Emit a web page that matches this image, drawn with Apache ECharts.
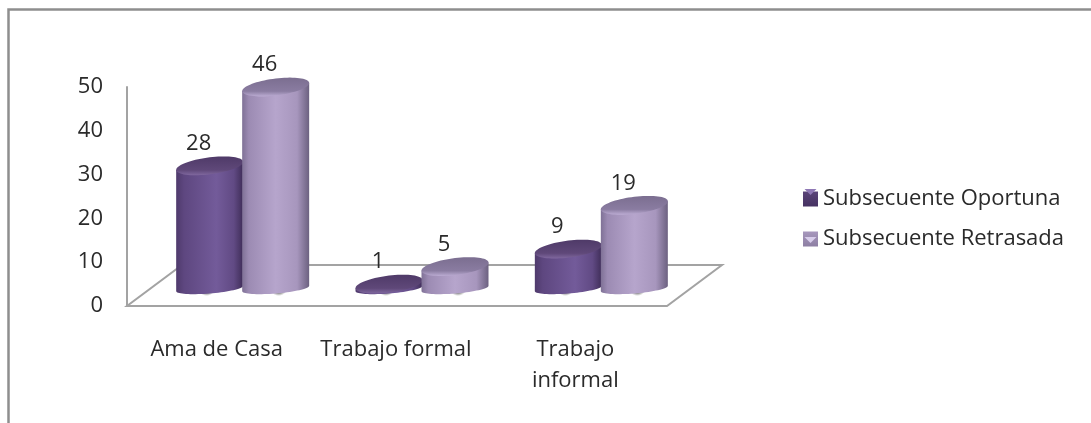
<!DOCTYPE html>
<html>
<head>
<meta charset="utf-8">
<style>html,body{margin:0;padding:0;background:#fff}#chart{width:1091px;height:423px}</style>
<script src="https://cdn.jsdelivr.net/npm/echarts@6/dist/echarts.min.js"></script>
</head>
<body>
<div id="chart"></div>
<script>
// Chart data
const categories = ['Ama de Casa', 'Trabajo formal', 'Trabajo\ninformal'];
const oportuna = [28, 1, 9];
const retrasada = [46, 5, 19];
const seriesNames = ['Subsecuente Oportuna', 'Subsecuente Retrasada'];
const yTicks = { min: 0, max: 50, interval: 10 };

const FONT = '"Open Sans", sans-serif';
const FONT_SIZE = 22;
const TEXT = '#2a2a2a';
const AXIS = '#a3a3a3';

// Oblique floor: the bars stand halfway into its depth
const FLOOR_DX = 55, FLOOR_DY = -41;
const BAR_DX = 26, BAR_DY = -17.5;
const RX = 33.5, TOP_RY = 8.5, BASE_RY = 5;

const palettes = {
  dark: {
    body: [[0, '#4f3a6c'], [0.12, '#5e4780'], [0.6, '#735b9a'], [0.86, '#614a84'], [1, '#3f2d58']],
    top: [[0, '#4f3a68'], [0.72, '#5f4879'], [1, '#80689f']]
  },
  light: {
    body: [[0, '#7f7196'], [0.1, '#9c8bb3'], [0.5, '#b6a5cc'], [0.82, '#a796bd'], [1, '#6c6180']],
    top: [[0, '#7b6e90'], [0.72, '#8a7ca1'], [1, '#bcacd3']]
  }
};

function gradient(stops, horizontal) {
  return new echarts.graphic.LinearGradient(0, 0, horizontal ? 1 : 0, horizontal ? 0 : 1,
    stops.map(s => ({ offset: s[0], color: s[1] })));
}

// Soft contact shadow under a cylinder
const shadowFill = new echarts.graphic.RadialGradient(0.5, 0.5, 0.5, [
  { offset: 0, color: 'rgba(85,85,85,0.75)' },
  { offset: 0.7, color: 'rgba(85,85,85,0.65)' },
  { offset: 1, color: 'rgba(120,120,120,0)' }
]);

// Point on an ellipse sheared so its long axis climbs to the right
function ellipsePoint(cx, cy, ry, slope, t) {
  const dx = RX * Math.cos(t);
  return [cx + dx, cy + ry * Math.sin(t) - slope * dx];
}

function ellipsePoints(cx, cy, ry, slope) {
  const pts = [];
  for (let i = 0; i < 72; i++) pts.push(ellipsePoint(cx, cy, ry, slope, i / 72 * Math.PI * 2));
  return pts;
}

function cylinderRenderer(palette, side) {
  return function (params, api) {
    const value = api.value(1);
    const base = api.coord([api.value(0), 0]);
    const top = api.coord([api.value(0), value]);
    const cx = base[0] + BAR_DX + side * RX * 0.985;
    const baseY = base[1] + BAR_DY;
    const topY = top[1] + BAR_DY;

    const body = [ellipsePoint(cx, topY, TOP_RY, 0.12, Math.PI), ellipsePoint(cx, topY, TOP_RY, 0.12, 0)];
    for (let i = 0; i <= 36; i++) body.push(ellipsePoint(cx, baseY, BASE_RY, 0.08, i / 36 * Math.PI));

    return {
      type: 'group',
      children: [
        {
          type: 'ellipse', z2: 1, silent: true,
          shape: { cx: cx + side * 3, cy: baseY - 1.5, rx: RX + 16, ry: 9 },
          style: { fill: shadowFill }
        },
        {
          type: 'polygon', z2: 10 + side,
          shape: { points: body },
          style: { fill: gradient(palette.body, true) }
        },
        {
          type: 'polygon', z2: 11 + side,
          shape: { points: ellipsePoints(cx, topY, TOP_RY, 0.12) },
          style: { fill: gradient(palette.top, false) }
        },
        {
          type: 'text', z2: 20,
          style: {
            text: String(value), x: cx - 11, y: topY - 22,
            align: 'center', verticalAlign: 'middle',
            font: FONT_SIZE + 'px ' + FONT, fill: TEXT
          }
        }
      ]
    };
  };
}

function floorRenderer(params, api) {
  const a = api.coord([0, 0]);
  const b = [params.coordSys.x + params.coordSys.width + 2, a[1]];
  a[0] = params.coordSys.x;
  return {
    type: 'polygon', silent: true,
    shape: { points: [a, b, [b[0] + FLOOR_DX, b[1] + FLOOR_DY], [a[0] + FLOOR_DX, a[1] + FLOOR_DY]] },
    style: { fill: '#fff', stroke: AXIS, lineWidth: 2 }
  };
}

function legendSwatch(name, from, to) {
  return {
    name: name, icon: 'rect',
    itemStyle: { color: new echarts.graphic.LinearGradient(0, 0, 0, 1, [{ offset: 0, color: from }, { offset: 1, color: to }]) }
  };
}

// Lighter bevel facet on each legend swatch
function swatchFacet(y, color) {
  return { type: 'polygon', silent: true, z: 20, shape: { points: [[804.5, y], [816.5, y], [810.5, y + 6]] }, style: { fill: color } };
}

const chart = echarts.init(document.getElementById('chart'), null, { renderer: 'canvas' });
chart.setOption({
  backgroundColor: '#ffffff',
  animation: false,
  grid: { left: 127, top: 87, width: 538, height: 219 },
  xAxis: {
    type: 'category',
    data: categories,
    axisLine: { show: false },
    axisTick: { show: false },
    axisLabel: { color: TEXT, fontFamily: FONT, fontSize: FONT_SIZE, margin: 28, lineHeight: 31, interval: 0 }
  },
  yAxis: {
    type: 'value',
    min: yTicks.min, max: yTicks.max, interval: yTicks.interval,
    splitLine: { show: false },
    axisTick: { show: false },
    axisLine: { show: true, lineStyle: { color: AXIS, width: 2 } },
    axisLabel: { color: TEXT, fontFamily: FONT, fontSize: FONT_SIZE, margin: 24 }
  },
  legend: {
    orient: 'vertical',
    left: 798, top: 183,
    itemWidth: 15, itemHeight: 15, itemGap: 18,
    icon: 'rect',
    textStyle: { color: TEXT, fontFamily: FONT, fontSize: FONT_SIZE },
    data: [
      legendSwatch(seriesNames[0], '#5a4478', '#463262'),
      legendSwatch(seriesNames[1], '#a797bd', '#8d7fa3')
    ],
    selectedMode: false
  },
  graphic: [
    { type: 'polyline', silent: true, shape: { points: [[8.5, 423], [8.5, 9.5], [1091, 9.5]] }, style: { fill: 'none', stroke: '#8e8e8e', lineWidth: 2.5 } },
    swatchFacet(189, '#8f78b5'),
    swatchFacet(237, '#d8cdeb')
  ],
  series: [
    { type: 'custom', name: 'floor', z: 1, silent: true, renderItem: floorRenderer, data: [[0, 0]], encode: { x: 0, y: 1 } },
    {
      type: 'custom', name: seriesNames[0], z: 2,
      renderItem: cylinderRenderer(palettes.dark, -1),
      data: oportuna.map((v, i) => [i, v]),
      encode: { x: 0, y: 1 },
      itemStyle: { color: '#5e4780' }
    },
    {
      type: 'custom', name: seriesNames[1], z: 2,
      renderItem: cylinderRenderer(palettes.light, 1),
      data: retrasada.map((v, i) => [i, v]),
      encode: { x: 0, y: 1 },
      itemStyle: { color: '#a796bd' }
    }
  ]
});
</script>
</body>
</html>
